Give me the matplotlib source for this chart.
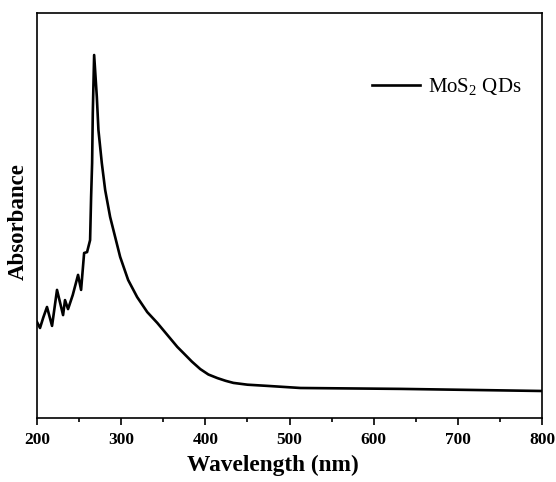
import numpy as np
import matplotlib
matplotlib.use('Agg')
from matplotlib import pyplot as plt
from matplotlib.ticker import MultipleLocator

plt.rcParams['font.family'] = 'Liberation Serif'
plt.rcParams['mathtext.fontset'] = 'custom'
plt.rcParams['mathtext.rm'] = 'Liberation Serif'

# UV-vis spectrum (arbitrary absorbance units)
wavelength = [200, 203.6, 207.5, 211.9, 217.9, 223.8, 231, 233.3, 236.9, 242.5,
              248.8, 252.4, 256, 259.5, 263.1, 264.3, 265.5, 266.3, 267.9, 271.1,
              273, 277, 281, 286.9, 292.9, 298.8, 308.3, 319, 331, 342.9,
              354.8, 366.7, 373.8, 384, 394, 403.6, 414.3, 424, 433.3, 450,
              473.8, 513, 632, 800]
absorbance = [0.320, 0.300, 0.335, 0.370, 0.307, 0.427, 0.343, 0.393, 0.363, 0.41,
              0.477, 0.427, 0.550, 0.553, 0.593, 0.737, 0.850, 1.017, 1.210, 1.070,
              0.960, 0.850, 0.760, 0.670, 0.603, 0.537, 0.460, 0.403, 0.353, 0.317,
              0.277, 0.237, 0.217, 0.188, 0.163, 0.145, 0.133, 0.124, 0.117, 0.111,
              0.107, 0.100, 0.097, 0.090]

fig = plt.figure(figsize=(5.56, 4.82), dpi=100)
ax = fig.add_axes([0.0665, 0.1328, 0.9085, 0.8402])

ax.plot(wavelength, absorbance, color='black', lw=1.9, label='MoS$_2$ QDs')

ax.set_xlim(200, 800)
ax.set_ylim(0, 1.35)
ax.xaxis.set_major_locator(MultipleLocator(100))
ax.xaxis.set_minor_locator(MultipleLocator(50))
ax.tick_params(axis='x', which='major', direction='out', length=5, width=1.2,
               labelsize=12.5, pad=5)
ax.tick_params(axis='x', which='minor', direction='out', length=3, width=1.2)
ax.set_yticks([])
for lab in ax.get_xticklabels():
    lab.set_fontweight('bold')
for s in ax.spines.values():
    s.set_linewidth(1.2)

ax.set_xlabel('Wavelength (nm)', fontsize=16.8, fontweight='bold', labelpad=5)
ax.xaxis.label.set_x(0.467)
ax.set_ylabel('Absorbance', fontsize=16.5, fontweight='bold', labelpad=6)
ax.yaxis.label.set_y(0.484)

ax.legend(loc='upper right', bbox_to_anchor=(0.996, 0.89), frameon=False,
          fontsize=15, handlelength=2.3, handletextpad=0.4)

plt.savefig('out.png', dpi=100)
